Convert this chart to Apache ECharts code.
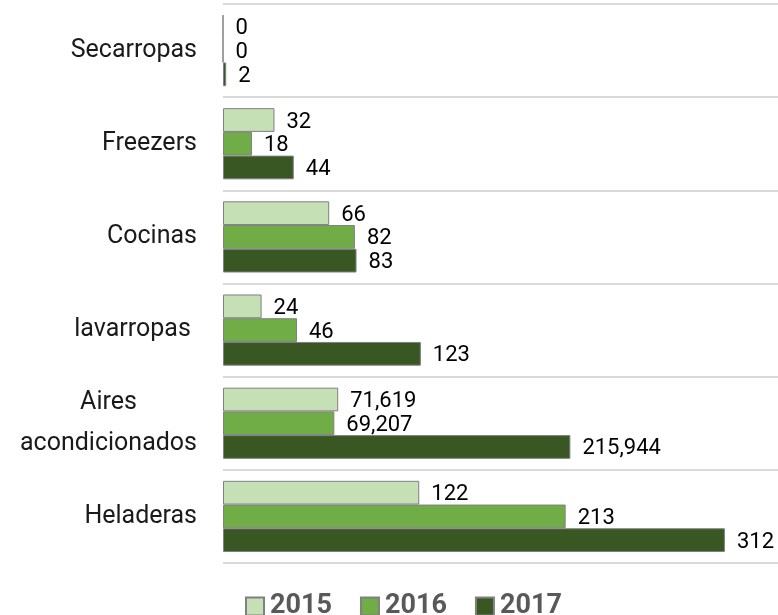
<!DOCTYPE html>
<html>
<head>
<meta charset="utf-8">
<script src="https://cdn.jsdelivr.net/npm/echarts@6/dist/echarts.min.js"></script>
<style>
  html,body{margin:0;padding:0;background:#fff}
  #chart{width:778px;height:615px}
</style>
</head>
<body>
<div id="chart"></div>
<script>
'use strict';
var categories = ['Secarropas', 'Freezers', 'Cocinas', 'lavarropas ', 'Aires\nacondicionados', 'Heladeras']
var years = ['2015', '2016', '2017']
var v2015 = [0, 32, 66, 24, 71.619, 122]
var v2016 = [0, 18, 82, 46, 69.207, 213]
var v2017 = [2, 44, 83, 123, 215.944, 312]
var colors = ['#c5e0b4', '#70ad47', '#385723']

var FONT = 'Roboto'

// la fila de aires lleva decimales con coma
var fmtValue = (p) => {
    var v = p.value
    return (v % 1 !== 0) ? v.toFixed(3).replace('.', ',') : String(v)
}

var mkSeries = (name, data, i) => ({
    name: name,
    type: 'bar',
    data: data,
    barGap: '0%',
    barCategoryGap: '23.6%',
    itemStyle: { color: colors[i], borderColor: '#808080', borderWidth: 1 },
    label: {
        show: true,
        position: 'right',
        distance: 12,
        offset: [0, 2],
        color: '#000',
        fontFamily: FONT,
        fontSize: 22,
        formatter: fmtValue
    }
})

var mychart = echarts.init(document.getElementById('chart'))
mychart.setOption({
    animation: false,
    color: colors,
    grid: { left: 223, right: 0, top: 4, bottom: 52, containLabel: false },
    legend: {
        data: years,
        left: 240,
        top: 588,
        icon: 'rect',
        itemWidth: 18,
        itemHeight: 18,
        itemGap: 28,
        textStyle: { fontFamily: FONT, fontSize: 27, fontWeight: 'bold', color: '#595959', padding: [0, 0, 0, 1] }
    },
    xAxis: {
        type: 'value',
        min: 0,
        max: 345,
        show: false
    },
    yAxis: {
        type: 'category',
        data: categories,
        inverse: true,
        axisLine: { show: false },
        axisTick: { show: false },
        splitLine: { show: true, lineStyle: { color: '#d9d9d9', width: 2 } },
        axisLabel: {
            margin: 26,
            color: '#1a1a1a',
            fontFamily: FONT,
            fontSize: 25,
            formatter: (val) => {
                if (val.indexOf('\n') < 0) return val
                return val.split('\n').map((s) => '{c|' + s + '}').join('\n')
            },
            rich: {
                c: { align: 'center', fontFamily: FONT, fontSize: 25, color: '#1a1a1a', lineHeight: 41 }
            }
        }
    },
    series: [mkSeries(years[0], v2015, 0), mkSeries(years[1], v2016, 1), mkSeries(years[2], v2017, 2)]
})
</script>
</body>
</html>
